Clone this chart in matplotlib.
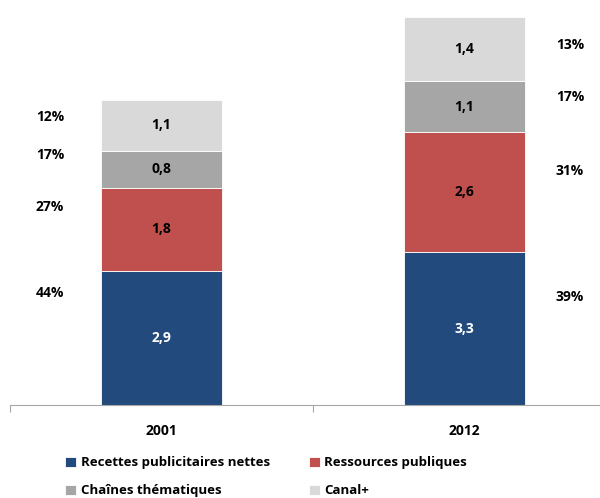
import matplotlib.pyplot as plt
import numpy as np

plt.rcParams["font.family"] = ["Open Sans", "DejaVu Sans"]
plt.rcParams["font.weight"] = "bold"

years = ["2001", "2012"]
series = ["Recettes publicitaires nettes", "Ressources publiques",
          "Chaînes thématiques", "Canal+"]
recettes = [2.9, 3.3]
ressources = [1.8, 2.6]
chaines = [0.8, 1.1]
canal = [1.1, 1.4]
pct_2001 = ["44%", "27%", "17%", "12%"]
pct_2012 = ["39%", "31%", "17%", "13%"]

colors = ["#224a7c", "#c0504d", "#a6a6a6", "#d9d9d9"]
text_colors = ["white", "black", "black", "black"]
# vertical placement of the share labels (layout only)
pct_y_2001 = [2.42, 4.29, 5.41, 6.23]
pct_y_2012 = [2.34, 5.06, 6.67, 7.79]

fs = 10

fig = plt.figure(figsize=(6, 4.98), dpi=100)
ax = fig.add_axes([10 / 600, 1 - 405 / 498, 590 / 600, (405 - 14) / 498])

x = np.arange(len(years))
bottom = np.zeros(len(years))
handles = []
for vals, name, col, tcol in zip([recettes, ressources, chaines, canal],
                                 series, colors, text_colors):
    bars = ax.bar(x, vals, 0.4, bottom=bottom, color=col, label=name,
                  edgecolor="white", linewidth=0.6)
    handles.append(bars)
    for xi, v, b in zip(x, vals, bottom):
        ax.text(xi, b + v / 2, f"{v:.1f}".replace(".", ","), ha="center",
                va="center", color=tcol, fontsize=fs, fontweight="bold")
    bottom += np.array(vals)

for lbl, yy in zip(pct_2001, pct_y_2001):
    ax.text(-0.368, yy, lbl, ha="center", va="center", fontsize=fs,
            fontweight="bold")
for lbl, yy in zip(pct_2012, pct_y_2012):
    ax.text(1.348, yy, lbl, ha="center", va="center", fontsize=fs,
            fontweight="bold")

ax.set_yticks([])
for s in ["top", "right", "left"]:
    ax.spines[s].set_visible(False)
ax.spines["bottom"].set_color("#a6a6a6")

ax.set_xticks([-0.5, 0.5])
ax.set_xticklabels([])
ax.tick_params(axis="x", which="major", length=5, color="#a6a6a6")
ax.set_xticks(x, minor=True)
ax.set_xticklabels(years, minor=True, fontsize=fs, fontweight="bold")
ax.tick_params(axis="x", which="minor", length=0, pad=14)

ax.set_xlim(-0.5, 1.447)
ax.set_ylim(0, 8.46)

# legend fills row by row in the reference
order = [0, 2, 1, 3]
ax.legend([handles[i] for i in order], [series[i] for i in order],
          loc="upper left", bbox_to_anchor=(0.085, -0.118), ncol=2, frameon=False,
          fontsize=9.5, handlelength=0.8, handleheight=0.8, handletextpad=0.35,
          columnspacing=3.0, labelspacing=1.12, borderaxespad=0)

fig.savefig("out.png", dpi=100)
